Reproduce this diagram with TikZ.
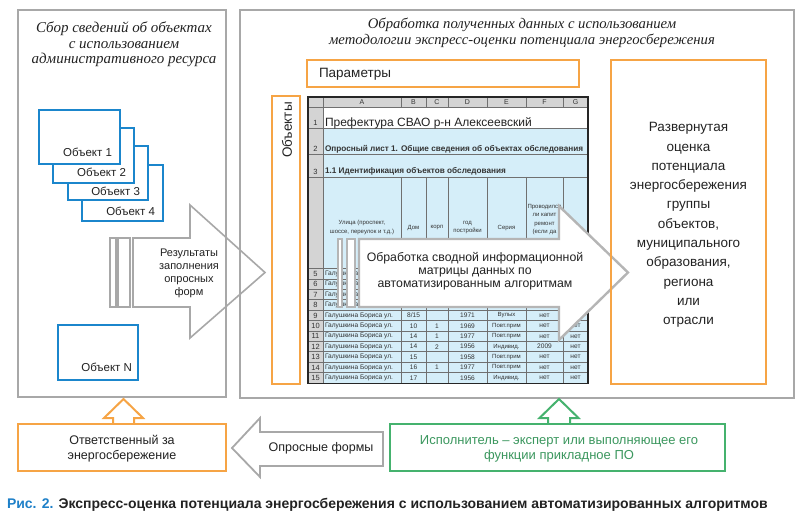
\documentclass[tikz,border=0pt]{standalone}
\usepackage{fontspec}
\setmainfont{Liberation Sans}
\newfontfamily\titlefont{Liberation Serif}
\definecolor{pgray}{HTML}{A8A8A8}
\definecolor{porange}{HTML}{F6A445}
\definecolor{pblue}{HTML}{1B86CC}
\definecolor{pgreen}{HTML}{45B26E}
\definecolor{cellblue}{HTML}{D5EEF9}
\definecolor{hdrgray}{HTML}{D4D4D4}
\definecolor{gridc}{HTML}{707070}
\definecolor{celltxt}{HTML}{333333}
\definecolor{txtc}{HTML}{222222}
\definecolor{capblue}{HTML}{1E80C8}
\begin{document}
\begin{tikzpicture}[x=1pt,y=-1pt,
  every node/.style={inner sep=0pt,outer sep=0pt,text=txtc},
  panel/.style={draw=pgray,line width=1.6pt,rectangle,anchor=north west},
  obox/.style={draw=porange,line width=2.2pt,rectangle,anchor=north west},
  gbox/.style={draw=pgreen,line width=2.2pt,rectangle,anchor=north west},
  objbox/.style={draw=pblue,line width=2.2pt,fill=white,rectangle,anchor=north west},
  objlbl/.style={anchor=base east,font=\fontsize{11.5}{13}\selectfont},
  barrow/.style={draw=pgray,line width=1.6pt,fill=white,line join=miter},
  grid/.style={draw=gridc,line width=0.5pt},
  cell/.style={font=\fontsize{6.6}{7}\selectfont,text=celltxt},
  rnum/.style={font=\fontsize{7.5}{8}\selectfont,text=celltxt},
  hdr/.style={font=\fontsize{6}{8.5}\selectfont,text=celltxt,align=center},
  titletxt/.style={font=\titlefont\itshape\fontsize{15}{15.5}\selectfont,align=center},
  bodytxt/.style={font=\fontsize{12.3}{13.1}\selectfont,align=center},
  ]
\useasboundingbox (0,0) rectangle (800,521);

% ---------- block arrow 1 (behind panels)
\draw[barrow] (110,238) rectangle (116,307);
\draw[barrow] (118,238) rectangle (130,307);
\draw[barrow] (133,238) -- (190,238) -- (190,205) -- (265,272.5) -- (190,338) -- (190,307) -- (133,307) -- cycle;
\node[font=\fontsize{11}{13}\selectfont,align=center] (res) at (189,273.5) {Результаты\\заполнения\\опросных\\форм};

% ---------- panels
\node[panel,minimum width=208pt,minimum height=387pt] (left) at (18,10) {};
\node[panel,minimum width=554pt,minimum height=388pt] (right) at (240,10) {};
\node[titletxt] (ltitle) at (124,44.5) {Сбор сведений об объектах\\с использованием\\административного ресурса};
\node[titletxt,font=\titlefont\itshape\fontsize{14.7}{15.5}\selectfont] (rtitle) at (522,33) {Обработка полученных данных с использованием\\методологии экспресс-оценки потенциала энергосбережения};

% ---------- object boxes
\node[objbox,minimum width=81pt,minimum height=56pt] (ob4) at (82,165) {};
\node[objbox,minimum width=80pt,minimum height=54pt] (ob3) at (68,146) {};
\node[objbox,minimum width=81pt,minimum height=55pt] (ob2) at (53,128) {};
\node[objbox,minimum width=81pt,minimum height=54pt] (ob1) at (39,110) {};
\node[objlbl] (l1) at (112,157) {Объект 1};
\node[objlbl] (l2) at (126,176.5) {Объект 2};
\node[objlbl] (l3) at (140,196) {Объект 3};
\node[objlbl] (l4) at (155,215.5) {Объект 4};
\node[objbox,minimum width=80pt,minimum height=55pt] (obN) at (58,325) {};
\node[objlbl] (lN) at (132,371) {Объект N};

% ---------- spreadsheet
\fill[hdrgray] (308,97) rectangle (588,107);
\fill[hdrgray] (308,107) rectangle (323,383);
\fill[white] (323,107) rectangle (588,128);
\fill[cellblue] (323,128) rectangle (588,383);
\foreach \yy in {107,128,154,177} \draw[grid] (308,\yy) -- (588,\yy);
\foreach \i in {0,...,10} \draw[grid] (308,268.5+\i*10.4) -- (588,268.5+\i*10.4);
\draw[grid] (323,97) -- (323,383);
\foreach \xx in {401,426,448,487,526,563} {
  \draw[grid] (\xx,97) -- (\xx,107);
  \draw[grid] (\xx,177) -- (\xx,383);
}
\draw[line width=1.1pt,black!85] (308,97) rectangle (588,383.5);
\foreach \l/\xx in {A/362,B/413.5,C/437,D/467.5,E/506.5,F/544.5,G/575.5}
  \node[font=\fontsize{7}{8}\selectfont,text=celltxt] (h\l) at (\xx,102.3) {\l};
\node[rnum,anchor=base] (rn1) at (315.5,126) {1};
\node[rnum,anchor=base] (rn2) at (315.5,152) {2};
\node[rnum,anchor=base] (rn3) at (315.5,174.5) {3};
\node[anchor=base west,font=\fontsize{12}{13}\selectfont] (r1) at (325,126.5) {Префектура СВАО р-н Алексеевский};
\node[anchor=base west,font=\bfseries\fontsize{8.2}{9}\selectfont,text=celltxt] (r2) at (325,151.5) {Опросный лист 1. Общие сведения об объектах обследования};
\node[anchor=base west,font=\bfseries\fontsize{8.2}{9}\selectfont,text=celltxt] (r3) at (325,174) {1.1 Идентификация объектов обследования};
\node[hdr] (hA) at (362,227.5) {Улица (проспект,\\шоссе, переулок и т.д.)};
\node[hdr] (hB) at (413.5,228) {Дом};
\node[hdr] (hC) at (437,228) {корп};
\node[hdr] (hD) at (467.5,227.5) {год\\постройки};
\node[hdr] (hE) at (506.5,228) {Серия};
\begin{scope}
  \clip (526,178) rectangle (563,268);
  \node[hdr] (hF) at (544.5,219.5) {Проводился\\ли капит\\ремонт\\(если да};
\end{scope}
% rows 5-8: mostly hidden by the processing arrow
\begin{scope}
  \clip (323,268) rectangle (357,311);
  \foreach \r in {5,...,8} {
    \pgfmathsetmacro{\yc}{268.5+(\r-5)*10.4+5.4}
    \node[cell,anchor=west] (a\r) at (325,\yc) {Галушкина};
  }
\end{scope}
\foreach \r in {5,...,8} {
  \pgfmathsetmacro{\yc}{268.5+(\r-5)*10.4+5.4}
  \node[rnum] (n\r) at (315.5,\yc) {\r};
}
\foreach \r/\b/\c/\d/\e/\f/\g in {
  9/{8/15}/{}/1971/Вулых/нет/нет,
  10/10/1/1969/Повт.прим/нет/нет,
  11/14/1/1977/Повт.прим/нет/нет,
  12/14/2/1956/Индивид./2009/нет,
  13/15/{}/1958/Повт.прим/нет/нет,
  14/16/1/1977/Повт.прим/нет/нет,
  15/17/{}/1956/Индивид./нет/нет} {
  \pgfmathsetmacro{\yc}{268.5+(\r-5)*10.4+5.4}
  \node[rnum] (n\r) at (315.5,\yc) {\r};
  \node[cell,anchor=west] (a\r) at (325,\yc) {Галушкина Бориса ул.};
  \node[cell] (b\r) at (413.5,\yc) {\b};
  \node[cell] (c\r) at (437,\yc) {\c};
  \node[cell] (d\r) at (467.5,\yc) {\d};
  \node[cell,font=\fontsize{6}{7}\selectfont] (e\r) at (506.5,\yc) {\e};
  \node[cell] (f\r) at (544.5,\yc) {\f};
  \node[cell] (g\r) at (575.5,\yc) {\g};
}

% ---------- block arrow 2 (over the sheet)
\begin{scope}[barrow/.append style={draw=pgray!85,line width=2.4pt}]
\draw[barrow] (338,239) rectangle (342,307);
\draw[barrow] (347,239) rectangle (355,307);
\draw[barrow] (359,239) -- (559,239) -- (559,206) -- (628,272.5) -- (559,340) -- (559,307) -- (359,307) -- cycle;
\end{scope}
\node[bodytxt] (proc) at (475,271) {Обработка сводной информационной\\матрицы данных по\\автоматизированным алгоритмам};

% ---------- orange boxes in right panel
\node[obox,minimum width=272pt,minimum height=27pt] (param) at (307,60) {};
\node[anchor=west,font=\fontsize{13.5}{15}\selectfont] (paramt) at (319,74) {Параметры};
\node[obox,minimum width=28pt,minimum height=288pt] (objs) at (272,96) {};
\node[rotate=90,font=\fontsize{13.5}{15}\selectfont] (objst) at (287,130) {Объекты};
\node[obox,minimum width=155pt,minimum height=324pt] (result) at (611,60) {};
\node[font=\fontsize{13.5}{19.3}\selectfont,align=center] (resultt) at (688.5,225) {Развернутая\\оценка\\потенциала\\энергосбережения\\группы\\объектов,\\муниципального\\образования,\\региона\\или\\отрасли};

% ---------- bottom row
\draw[draw=porange,line width=2pt,fill=white,line join=miter] (123.5,399) -- (143,418) -- (134,418) -- (134,425) -- (113,425) -- (113,418) -- (104,418) -- cycle;
\node[obox,fill=white,minimum width=208pt,minimum height=47pt] (resp) at (18,424) {};
\node[align=center,font=\fontsize{12.5}{15}\selectfont] (respt) at (122,449) {Ответственный за\\энергосбережение};
\draw[draw=pgreen,line width=2pt,fill=white,line join=miter] (559,399) -- (578.5,418) -- (570,418) -- (570,425) -- (548,425) -- (548,418) -- (539.5,418) -- cycle;
\node[gbox,fill=white,minimum width=335pt,minimum height=47pt] (exec) at (390,424) {};
\node[align=center,font=\fontsize{13}{15}\selectfont,text=pgreen!85!black] (exect) at (559,449) {Исполнитель – эксперт или выполняющее его\\функции прикладное ПО};
\draw[barrow,line width=1.8pt] (232,448) -- (260,418) -- (260,432) -- (383,432) -- (383,466) -- (260,466) -- (260,477) -- cycle;
\node[font=\fontsize{12.5}{15}\selectfont] (forms) at (321,448) {Опросные формы};

% ---------- caption
\node[anchor=base west,font=\bfseries\fontsize{14}{15}\selectfont] (cap) at (7,508.5) {\textcolor{capblue}{Рис. 2.} Экспресс-оценка потенциала энергосбережения с использованием автоматизированных алгоритмов};
\end{tikzpicture}
\end{document}
